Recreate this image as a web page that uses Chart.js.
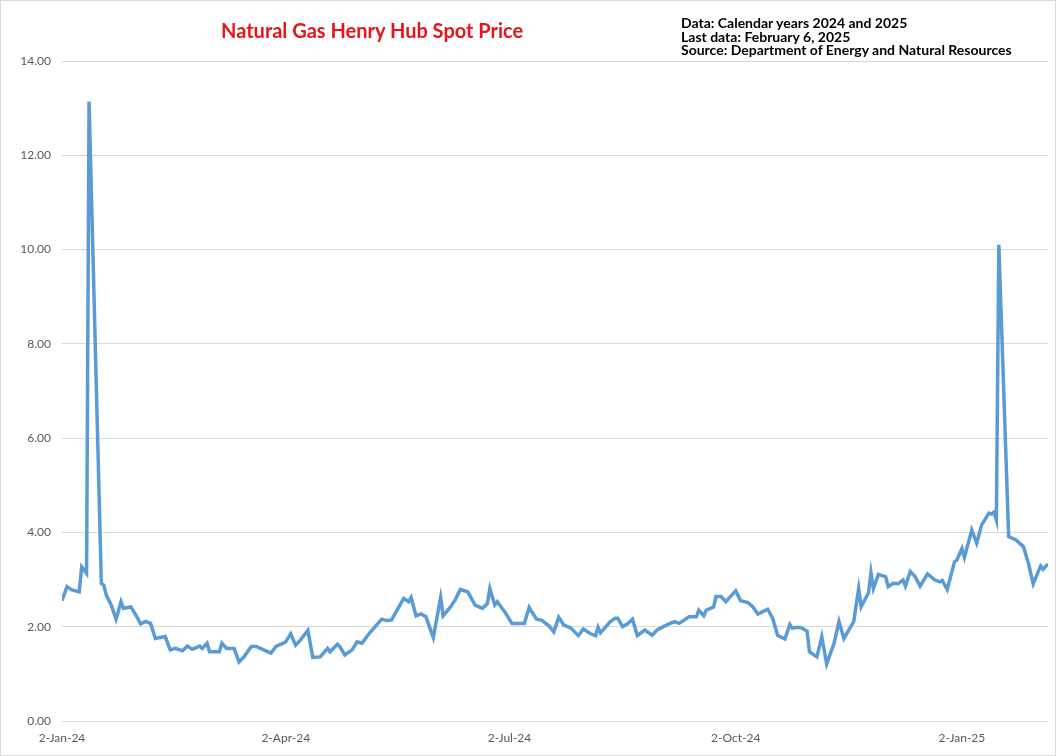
<!DOCTYPE html>
<html>
<head>
<meta charset="utf-8">
<script src="https://cdn.jsdelivr.net/npm/chart.js@4.4.1/dist/chart.umd.min.js"></script>
<style>
  html, body { margin: 0; padding: 0; background: #fff; }
  #wrap {
    position: relative;
    width: 1056px;
    height: 756px;
    box-sizing: border-box;
    border: 1px solid #d9d9d9;
    font-family: Lato, "Open Sans", sans-serif;
  }
  #title {
    position: absolute;
    left: 220px;
    top: 17px;
    font-size: 20px;
    font-weight: bold;
    color: #e8141b;
    white-space: nowrap;
  }
  #note {
    position: absolute;
    left: 680px;
    top: 15px;
    font-size: 14px;
    line-height: 13.5px;
    font-weight: bold;
    color: #000;
    white-space: nowrap;
  }
  #chart { position: absolute; left: 0; top: 0; }
</style>
</head>
<body>
<div id="wrap">
  <canvas id="chart" width="1054" height="754"></canvas>
  <div id="title">Natural Gas Henry Hub Spot Price</div>
  <div id="note">Data: Calendar years 2024 and 2025<br>Last data: February 6, 2025<br>Source: Department of Energy and Natural Resources</div>
</div>
<script>
// Days counted from 2-Jan-24
const dayOffsets = [
  0, 2, 4, 7, 8, 9, 10, 11, 16, 17, 18, 20, 22, 24, 25, 28, 30, 32, 34, 36,
  38, 42, 44, 46, 49, 51, 53, 56, 57, 59, 60, 64, 65, 67, 70, 72, 74, 77, 79, 82,
  85, 87, 90, 91, 93, 95, 97, 100, 102, 105, 108, 109, 112, 113, 115, 118, 120, 122, 125, 130,
  132, 134, 137, 139, 141, 142, 144, 146, 148, 151, 154, 155, 158, 160, 162, 165, 168, 171, 173, 174,
  176, 177, 180, 183, 187, 188, 190, 191, 193, 195, 198, 200, 202, 204, 207, 210, 212, 215, 217, 218,
  219, 223, 225, 226, 228, 230, 232, 234, 237, 240, 242, 246, 249, 251, 253, 255, 258, 259, 261, 262,
  265, 266, 268, 270, 272, 274, 276, 279, 281, 283, 285, 287, 289, 291, 294, 296, 297, 299, 301, 303,
  304, 307, 309, 311, 314, 316, 318, 322, 324, 325, 328, 329, 330, 332, 334, 335, 336, 338, 340, 342,
  343, 345, 347, 349, 352, 355, 357, 358, 360, 363, 364, 366, 367, 370, 372, 374, 377, 378, 379, 380,
  381, 385, 388, 391, 393, 395, 398, 399, 401
];

// Spot price, $/MMBtu
const prices = [
  2.55, 2.85, 2.78, 2.74, 3.27, 3.20, 3.13, 13.14, 2.92, 2.88, 2.67, 2.46, 2.16, 2.53, 2.39, 2.42, 2.25, 2.06, 2.11, 2.07,
  1.75, 1.79, 1.51, 1.54, 1.49, 1.59, 1.52, 1.59, 1.54, 1.65, 1.47, 1.47, 1.65, 1.54, 1.54, 1.25, 1.36, 1.58, 1.58, 1.51,
  1.44, 1.58, 1.65, 1.68, 1.85, 1.61, 1.72, 1.92, 1.35, 1.36, 1.54, 1.47, 1.63, 1.58, 1.40, 1.51, 1.68, 1.65, 1.86, 2.16,
  2.13, 2.14, 2.42, 2.60, 2.53, 2.62, 2.23, 2.27, 2.21, 1.77, 2.62, 2.23, 2.42, 2.58, 2.79, 2.74, 2.46, 2.39, 2.49, 2.81,
  2.46, 2.53, 2.32, 2.07, 2.07, 2.07, 2.41, 2.32, 2.16, 2.14, 2.02, 1.89, 2.20, 2.04, 1.97, 1.81, 1.95, 1.85, 1.81, 1.99,
  1.87, 2.11, 2.18, 2.18, 2.00, 2.06, 2.16, 1.81, 1.93, 1.82, 1.93, 2.04, 2.11, 2.07, 2.14, 2.21, 2.21, 2.35, 2.23, 2.35,
  2.42, 2.64, 2.64, 2.53, 2.65, 2.76, 2.55, 2.51, 2.42, 2.27, 2.32, 2.37, 2.18, 1.82, 1.74, 2.05, 1.97, 1.99, 1.97, 1.91,
  1.47, 1.36, 1.79, 1.21, 1.65, 2.11, 1.75, 2.11, 2.81, 2.42, 2.72, 3.15, 2.81, 3.11, 3.08, 3.06, 2.85, 2.92, 2.91, 2.99,
  2.86, 3.17, 3.06, 2.86, 3.12, 2.99, 2.95, 2.98, 2.79, 3.38, 3.42, 3.66, 3.47, 4.05, 3.77, 4.16, 4.41, 4.39, 4.43, 4.26,
  10.10, 3.91, 3.84, 3.70, 3.35, 2.91, 3.29, 3.22, 3.33
];

const tickDays = [0, 91, 182, 274, 366];
const tickLabels = ['2-Jan-24', '2-Apr-24', '2-Jul-24', '2-Oct-24', '2-Jan-25'];

const points = dayOffsets.map((d, i) => ({ x: d, y: prices[i] }));

const ctx = document.getElementById('chart').getContext('2d');

new Chart(ctx, {
    type: 'line',
    data: {
        datasets: [{
            label: 'Henry Hub',
            data: points,
            borderColor: '#5b9bd5',
            borderWidth: 3.5,
            pointRadius: 0,
            tension: 0,
            fill: false
        }]
    },
    options: {
        responsive: false,
        animation: false,
        layout: {
            padding: { top: 60, right: 7, bottom: 0, left: 0 }
        },
        plugins: {
            legend: { display: false },
            tooltip: { enabled: false }
        },
        scales: {
            x: {
                type: 'linear',
                min: 0,
                max: 401,
                afterBuildTicks: (scale) => {
                    scale.ticks = tickDays.map(v => ({ value: v }));
                },
                afterFit: (scale) => { scale.height = 34; },
                grid: { display: false, drawTicks: false },
                border: { display: false },
                ticks: {
                    autoSkip: false,
                    maxRotation: 0,
                    padding: 10,
                    color: '#595959',
                    font: { family: 'Lato', size: 12 },
                    callback: (v) => tickLabels[tickDays.indexOf(v)]
                }
            },
            y: {
                min: 0,
                max: 14,
                afterFit: (scale) => { scale.width = 61; },
                grid: { color: '#d9d9d9', drawTicks: false },
                border: { display: false },
                ticks: {
                    stepSize: 2,
                    padding: 11,
                    color: '#595959',
                    font: { family: 'Lato', size: 12 },
                    callback: (v) => v.toFixed(2)
                }
            }
        }
    }
});
</script>
</body>
</html>
